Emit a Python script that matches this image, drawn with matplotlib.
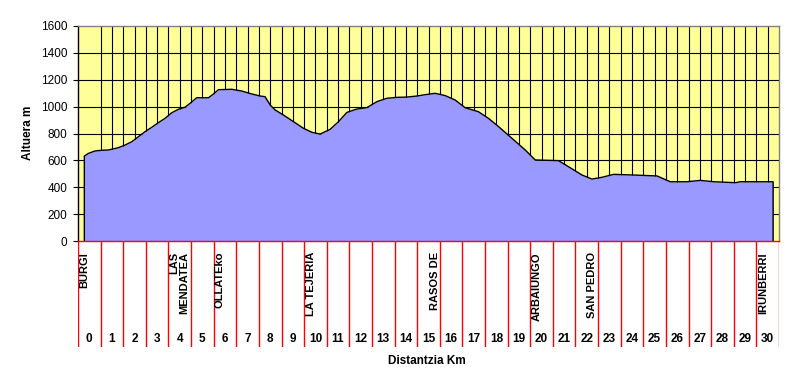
import matplotlib.pyplot as plt

plt.rcParams['font.family'] = ['Liberation Sans', 'DejaVu Sans']

# profile: position along the km axis, altitude in m
dist = [0.28, 0.46, 0.75, 1.05, 1.34, 1.78, 2.08, 2.38, 2.67, 2.96,
        3.26, 3.55, 3.85, 4.15, 4.44, 4.73, 4.96, 5.25, 5.77, 5.99,
        6.21, 6.80, 7.24, 7.69, 8.05, 8.27, 8.50, 8.72, 9.08, 9.53,
        9.97, 10.34, 10.71, 11.15, 11.52, 11.89, 12.33, 12.77, 13.22, 13.66,
        14.10, 14.54, 14.99, 15.43, 15.80, 16.24, 16.68, 17.12, 17.71, 18.15,
        18.60, 19.19, 19.78, 20.22, 21.25, 21.69, 22.29, 22.73, 23.17, 23.69,
        24.57, 25.61, 26.19, 26.93, 27.52, 28.12, 29.07, 29.29, 30.74]
alt = [632, 652, 670, 675, 677, 694, 714, 739, 776, 813,
       846, 880, 913, 955, 980, 995, 1025, 1066, 1066, 1094,
       1126, 1129, 1116, 1094, 1079, 1074, 1012, 975, 938, 888,
       839, 809, 796, 831, 888, 957, 982, 992, 1037, 1062,
       1069, 1071, 1079, 1091, 1099, 1082, 1049, 992, 962, 913,
       851, 764, 677, 603, 598, 553, 491, 461, 474, 496,
       491, 484, 441, 441, 451, 441, 434, 441, 441]

km_labels = [str(k) for k in range(31)]
places = ['BURGI', 'LAS\nMENDATEA', 'OLLATEko', 'LA TEJERIA', 'RASOS DE',
          'ARBAIUNGO', 'SAN PEDRO', 'IRUNBERRI']
place_pos = [0.27, 4.49, 6.24, 10.29, 15.77, 20.27, 22.74, 30.29]

fig = plt.figure(figsize=(7.94, 3.88), dpi=100)
ax = fig.add_axes([78 / 794, 1 - 241 / 388, 701 / 794, 215 / 388])
ax.set_facecolor('#FFFF99')
ax.set_xlim(0, 31)
ax.set_ylim(0, 1600)

# grid behind the area
for v in range(200, 1600, 200):
    ax.axhline(v, color='black', lw=0.8, zorder=1)
for k in range(2, 62):
    ax.axvline(k / 2, color='black', lw=0.8, zorder=1)

ax.fill_between(dist, alt, 0, color='#9999FF', lw=0, zorder=2)
ax.plot([dist[0]] + dist + [dist[-1]], [0] + alt + [0], color='black', lw=1, zorder=3)

ax.set_xticks([])
ax.set_yticks(range(0, 1601, 200))
ax.tick_params(axis='y', length=3.6, width=0.8, pad=4, labelsize=8.5)
for s in ['top', 'right']:
    ax.spines[s].set_color('#808080')
ax.spines['left'].set_color('black')
ax.spines['bottom'].set_color('red')
for s in ax.spines.values():
    s.set_linewidth(1)
    s.set_zorder(4)

# strip under the chart with km boxes and place names
ax2 = fig.add_axes([78 / 794, 1 - 347 / 388, 701 / 794, 106 / 388])
ax2.set_xlim(0, 31)
ax2.set_ylim(106, 0)
ax2.axis('off')
for k in range(32):
    ax2.axvline(k, color='red', lw=1)
for k, lab in enumerate(km_labels):
    ax2.text(k + 0.5, 98, lab, ha='center', va='center', fontsize=8.5, fontweight='bold')
for p, name in zip(place_pos, places):
    ax2.text(p, 11, name, rotation=90, ha='center', va='top', fontsize=8,
             fontweight='bold', multialignment='right', linespacing=1.0)

fig.text(427 / 794, 1 - 361 / 388, 'Distantzia Km', ha='center', va='center',
         fontsize=8.5, fontweight='bold')
fig.text(28 / 794, 1 - 133 / 388, 'Altuera m', rotation=90, ha='center', va='center',
         fontsize=8.5, fontweight='bold')

fig.savefig('out.png', dpi=100)
